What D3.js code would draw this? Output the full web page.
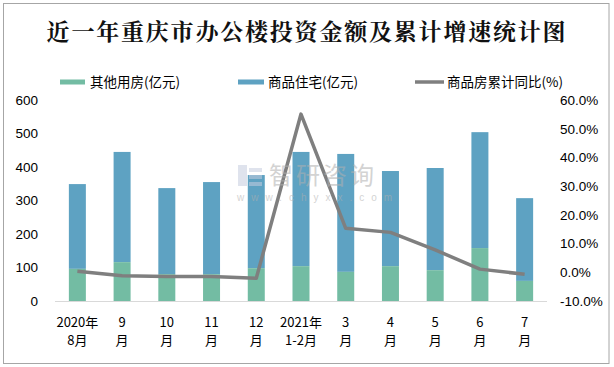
<!DOCTYPE html>
<html><head><meta charset="utf-8">
<script src="https://cdn.jsdelivr.net/npm/d3@7"></script>
<style>body{margin:0;background:#fff}svg{display:block}</style>
</head><body>
<script>
const categoriesL1 = ["2020年","9","10","11","12","2021年","3","4","5","6","7"];
const categoriesL2 = ["8月","月","月","月","月","1-2月","月","月","月","月","月"];
const otherValues = [96, 116, 80, 80, 98, 104, 87, 104, 92, 158, 60];
const housingTotal = [349, 445, 337, 355, 376, 445, 439, 388, 397, 504, 307];
const yoyValues = [0.4, -1.2, -1.5, -1.5, -2.1, 55.1, 15.3, 13.9, 7.8, 1.1, -0.7];
const leftTicks = [0,100,200,300,400,500,600];
const rightTicks = [-10,0,10,20,30,40,50,60];
const seriesNames = ["其他用房(亿元)","商品住宅(亿元)","商品房累计同比(%)"];
const title = "近一年重庆市办公楼投资金额及累计增速统计图";

const W=614,H=367;
const cjk = "'Noto Sans CJK SC','Liberation Sans',sans-serif";
const num = "'Liberation Sans',Arial,sans-serif";
const green="#73bca3", blue="#5ea2c2", gray="#7f7f7f";

const svg=d3.select("body").append("svg").attr("width",W).attr("height",H);
svg.append("rect").attr("x",3.5).attr("y",3.5).attr("width",605.5).attr("height",360)
  .attr("fill","#fff").attr("stroke","#a6a6a6").attr("stroke-width",1);

svg.append("text").attr("x",307).attr("y",40).attr("text-anchor","middle")
  .attr("font-family","'Noto Serif CJK SC','Noto Sans CJK SC',serif").attr("font-weight","bold")
  .attr("font-size",23).attr("letter-spacing",1.8).attr("fill","#111").text(title);

const idx=d3.range(categoriesL1.length);
const x=d3.scaleBand().domain(idx).range([55,547]).paddingInner(0.62).paddingOuter(0.31);
const yL=d3.scaleLinear().domain([0,600]).range([301,100]);
const yR=d3.scaleLinear().domain([-10,60]).range([301,100]);

// bars
const g=svg.append("g");
g.selectAll(".b").data(idx).join("rect").attr("x",i=>x(i)).attr("width",x.bandwidth())
  .attr("y",i=>yL(housingTotal[i])).attr("height",i=>yL(otherValues[i])-yL(housingTotal[i])).attr("fill",blue);
g.selectAll(".o").data(idx).join("rect").attr("x",i=>x(i)).attr("width",x.bandwidth())
  .attr("y",i=>yL(otherValues[i])).attr("height",i=>yL(0)-yL(otherValues[i])).attr("fill",green);

// baseline
svg.append("line").attr("x1",55).attr("x2",547).attr("y1",yL(0)+0.5).attr("y2",yL(0)+0.5).attr("stroke","#d9d9d9");

// axes
const axL=svg.append("g").attr("transform","translate(40,0)")
  .call(d3.axisLeft(yL).tickValues(leftTicks).tickSize(0).tickPadding(2));
axL.select(".domain").remove();
axL.selectAll("text").attr("font-family",num).attr("font-size",13.5).attr("fill","#000");
const axR=svg.append("g").attr("transform","translate(558,0)")
  .call(d3.axisRight(yR).tickValues(rightTicks).tickSize(0).tickPadding(2).tickFormat(d=>d.toFixed(1)+"%"));
axR.select(".domain").remove();
axR.selectAll("text").attr("font-family",num).attr("font-size",13.5).attr("fill","#000");

// x labels
const xl=svg.append("g");
xl.selectAll(".l1").data(idx).join("text").attr("x",i=>x(i)+x.bandwidth()/2).attr("y",327)
  .attr("text-anchor","middle").attr("font-family",cjk).attr("font-size",13).text(i=>categoriesL1[i]);
xl.selectAll(".l2").data(idx).join("text").attr("x",i=>x(i)+x.bandwidth()/2).attr("y",345)
  .attr("text-anchor","middle").attr("font-family",cjk).attr("font-size",13).text(i=>categoriesL2[i]);

// line
const line=d3.line().x(i=>x(i)+x.bandwidth()/2).y(i=>yR(yoyValues[i]));
svg.append("path").datum(idx).attr("d",line).attr("fill","none").attr("stroke",gray)
  .attr("stroke-width",3.5).attr("stroke-linejoin","round");

// watermark
const wm=svg.append("g").attr("opacity",0.55);
wm.append("rect").attr("x",238).attr("y",165).attr("width",9).attr("height",21).attr("fill","#c5cde0");
wm.append("rect").attr("x",249).attr("y",168).attr("width",13).attr("height",4).attr("fill","#c5cde0");
wm.append("rect").attr("x",249).attr("y",175).attr("width",13).attr("height",4).attr("fill","#c5cde0");
wm.append("rect").attr("x",249).attr("y",182).attr("width",13).attr("height",4).attr("fill","#c5cde0");
wm.append("text").attr("x",269).attr("y",184).attr("font-family",cjk).attr("font-size",24)
  .attr("letter-spacing",3).attr("fill","#b0b0b0").text("智研咨询");
wm.append("text").attr("x",237).attr("y",201).attr("font-family",num).attr("font-size",10)
  .attr("letter-spacing",7).attr("fill","#b0b0b0").text("www.chyxx.com");

// legend
const lg=svg.append("g");
lg.append("rect").attr("x",60).attr("y",79.5).attr("width",25).attr("height",5).attr("fill",green);
lg.append("text").attr("x",90).attr("y",87).attr("font-family",cjk).attr("font-size",13.5).text(seriesNames[0]);
lg.append("rect").attr("x",238).attr("y",79.5).attr("width",26).attr("height",5).attr("fill",blue);
lg.append("text").attr("x",268).attr("y",87).attr("font-family",cjk).attr("font-size",13.5).text(seriesNames[1]);
lg.append("line").attr("x1",415).attr("x2",444).attr("y1",82).attr("y2",82).attr("stroke",gray).attr("stroke-width",3.5);
lg.append("text").attr("x",447).attr("y",87).attr("font-family",cjk).attr("font-size",13.5).text(seriesNames[2]);
</script>
</body></html>
